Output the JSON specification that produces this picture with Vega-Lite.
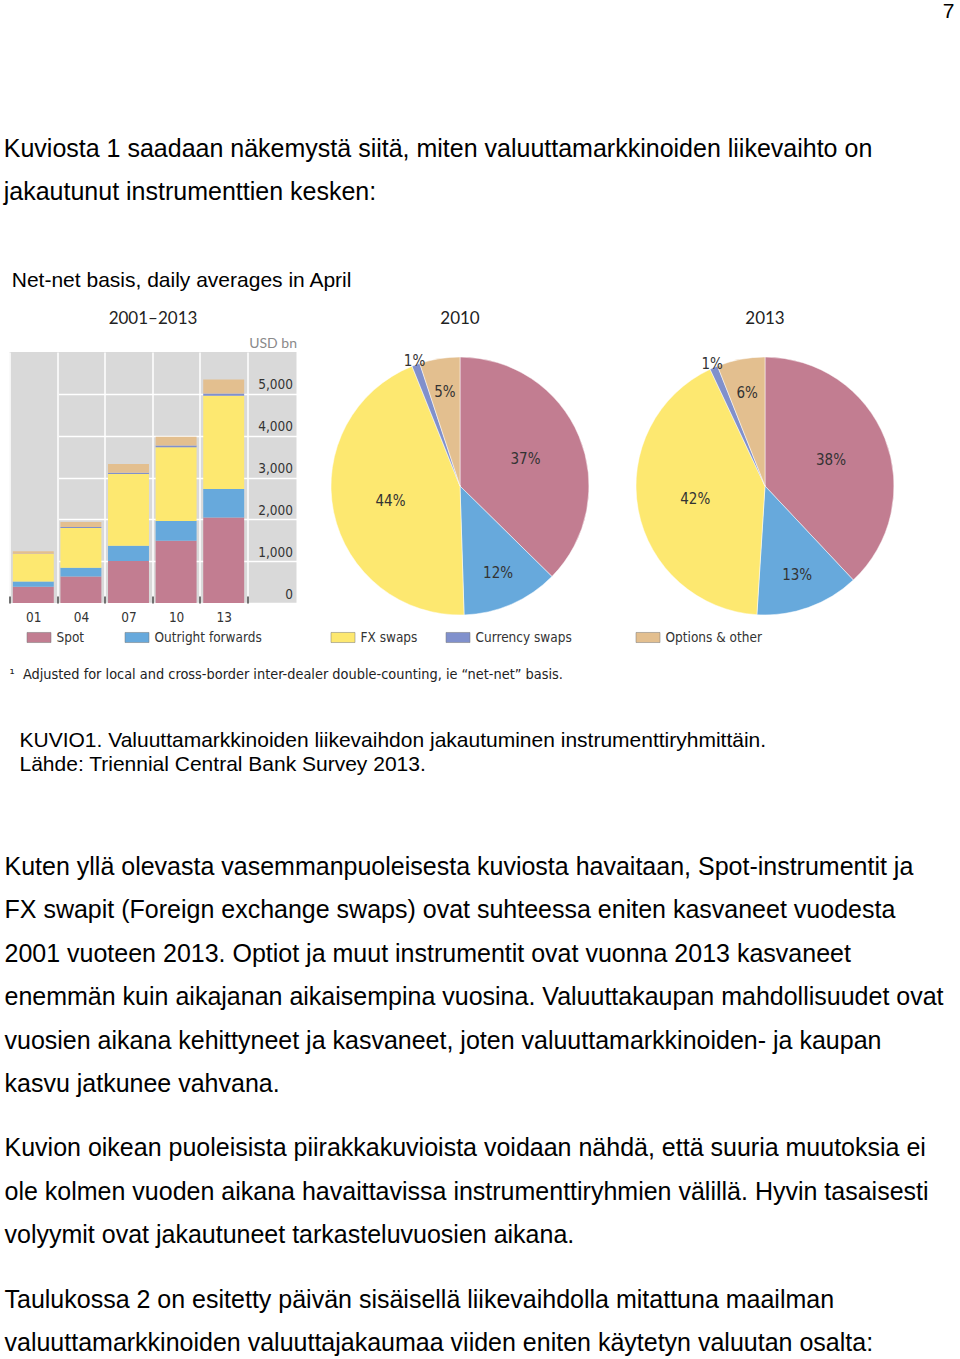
{
  "$schema": "https://vega.github.io/schema/vega-lite/v6.json",
  "background": "white",
  "padding": {"left": 3.5, "top": 0, "right": 5, "bottom": 0},
  "spacing": 22,
  "title": {"text": "7", "anchor": "end", "fontSize": 21, "offset": 115, "font": "Liberation Sans", "fontWeight": "normal", "color": "#000000"},
  "datasets": {
    "bars": [
      {"year": "01", "cat": "Spot", "ord": 1, "value": 386},
      {"year": "01", "cat": "Outright forwards", "ord": 2, "value": 130},
      {"year": "01", "cat": "FX swaps", "ord": 3, "value": 656},
      {"year": "01", "cat": "Currency swaps", "ord": 4, "value": 7},
      {"year": "01", "cat": "Options & other", "ord": 5, "value": 60},
      {"year": "04", "cat": "Spot", "ord": 1, "value": 631},
      {"year": "04", "cat": "Outright forwards", "ord": 2, "value": 209},
      {"year": "04", "cat": "FX swaps", "ord": 3, "value": 954},
      {"year": "04", "cat": "Currency swaps", "ord": 4, "value": 21},
      {"year": "04", "cat": "Options & other", "ord": 5, "value": 119},
      {"year": "07", "cat": "Spot", "ord": 1, "value": 1005},
      {"year": "07", "cat": "Outright forwards", "ord": 2, "value": 362},
      {"year": "07", "cat": "FX swaps", "ord": 3, "value": 1714},
      {"year": "07", "cat": "Currency swaps", "ord": 4, "value": 31},
      {"year": "07", "cat": "Options & other", "ord": 5, "value": 212},
      {"year": "10", "cat": "Spot", "ord": 1, "value": 1488},
      {"year": "10", "cat": "Outright forwards", "ord": 2, "value": 475},
      {"year": "10", "cat": "FX swaps", "ord": 3, "value": 1759},
      {"year": "10", "cat": "Currency swaps", "ord": 4, "value": 43},
      {"year": "10", "cat": "Options & other", "ord": 5, "value": 207},
      {"year": "13", "cat": "Spot", "ord": 1, "value": 2046},
      {"year": "13", "cat": "Outright forwards", "ord": 2, "value": 680},
      {"year": "13", "cat": "FX swaps", "ord": 3, "value": 2228},
      {"year": "13", "cat": "Currency swaps", "ord": 4, "value": 54},
      {"year": "13", "cat": "Options & other", "ord": 5, "value": 337}
    ],
    "pies": [
      {"year": "2010", "cat": "Spot", "ord": 1, "pct": 0.37},
      {"year": "2010", "cat": "Outright forwards", "ord": 2, "pct": 0.12},
      {"year": "2010", "cat": "FX swaps", "ord": 3, "pct": 0.44},
      {"year": "2010", "cat": "Currency swaps", "ord": 4, "pct": 0.01},
      {"year": "2010", "cat": "Options & other", "ord": 5, "pct": 0.05},
      {"year": "2013", "cat": "Spot", "ord": 1, "pct": 0.38},
      {"year": "2013", "cat": "Outright forwards", "ord": 2, "pct": 0.13},
      {"year": "2013", "cat": "FX swaps", "ord": 3, "pct": 0.42},
      {"year": "2013", "cat": "Currency swaps", "ord": 4, "pct": 0.01},
      {"year": "2013", "cat": "Options & other", "ord": 5, "pct": 0.06}
    ]
  },
  "vconcat": [
    {
      "title": {"text": ["Kuviosta 1 saadaan näkemystä siitä, miten valuuttamarkkinoiden liikevaihto on", "jakautunut instrumenttien kesken:"], "anchor": "start", "fontSize": 25, "lineHeight": 43, "dx": -5, "offset": 65},
      "vconcat": [
        {
          "title": {"text": "Net-net basis, daily averages in April", "anchor": "start", "fontSize": 21, "dx": 3, "offset": 19},
          "spacing": 22,
          "resolve": {"legend": {"color": "independent"}},
          "hconcat": [
            {
              "title": {"text": "2001–2013", "font": "Lato", "fontSize": 17, "color": "#222222", "offset": 8},
              "width": 287,
              "height": 251,
              "view": {"fill": "#d9d9d9", "stroke": null},
              "data": {"name": "bars"},
              "mark": {"type": "bar", "width": {"band": 0.86}},
              "encoding": {
                "x": {
                  "field": "year", "type": "ordinal",
                  "scale": {"range": [0, 238], "paddingInner": 0, "paddingOuter": 0},
                  "axis": {"title": null, "domain": false, "grid": true, "gridColor": "#ffffff", "gridWidth": 1.5, "tickBand": "extent", "ticks": true, "tickColor": "#444444", "tickWidth": 1.5, "tickSize": -7, "labelPadding": 14, "labelAngle": 0, "labelFontSize": 13.5, "labelColor": "#333333"}
                },
                "y": {
                  "field": "value", "type": "quantitative", "stack": "zero",
                  "scale": {"domain": [0, 6000], "nice": false},
                  "axis": {"orient": "right", "offset": -49, "values": [0, 1000, 2000, 3000, 4000, 5000], "format": ",.0f", "grid": true, "gridColor": "#ffffff", "gridWidth": 1.5, "domain": false, "ticks": false, "labelAlign": "right", "labelPadding": 45, "labelBaseline": "bottom", "labelOffset": -2, "labelFontSize": 13.5, "labelColor": "#333333", "title": "USD bn", "titleAngle": 0, "titleAlign": "right", "titleBaseline": "bottom", "titleX": 49, "titleY": -2, "titleFont": "Lato", "titleFontSize": 14, "titleFontWeight": "normal", "titleColor": "#8a8a8a"}
                },
                "color": {
                  "field": "cat", "type": "nominal",
                  "scale": {"domain": ["Spot", "Outright forwards", "FX swaps", "Currency swaps", "Options & other"], "range": ["#c27d91", "#67a9dc", "#fde870", "#8090cc", "#e3bf8f"]},
                  "legend": {"values": ["Spot", "Outright forwards"], "orient": "none", "legendX": 17, "legendY": 273, "direction": "horizontal", "title": null, "columnPadding": 39}
                },
                "order": {"field": "ord", "type": "quantitative"}
              }
            },
            {
              "title": {"text": "2010", "font": "Lato", "fontSize": 17, "color": "#222222", "offset": 20},
              "width": 283,
              "height": 268,
              "data": {"name": "pies"},
              "transform": [{"filter": "datum.year == '2010'"}],
              "layer": [
                {
                  "mark": {"type": "arc", "outerRadius": 129, "stroke": "#ffffff", "strokeWidth": 0.5},
                  "encoding": {
                    "theta": {"field": "pct", "type": "quantitative", "stack": true},
                    "color": {
                      "field": "cat", "type": "nominal",
                      "scale": {"domain": ["Spot", "Outright forwards", "FX swaps", "Currency swaps", "Options & other"], "range": ["#c27d91", "#67a9dc", "#fde870", "#8090cc", "#e3bf8f"]},
                      "legend": {"values": ["FX swaps", "Currency swaps"], "orient": "none", "legendX": 12, "legendY": 273, "direction": "horizontal", "title": null, "columnPadding": 27}
                    },
                    "order": {"field": "ord", "type": "quantitative"}
                  }
                },
                {
                  "mark": {"type": "text", "radius": 71, "fontSize": 15, "color": "#333333"},
                  "encoding": {
                    "theta": {"field": "pct", "type": "quantitative", "stack": true},
                    "detail": {"field": "cat", "type": "nominal"},
                    "order": {"field": "ord", "type": "quantitative"},
                    "text": {"condition": {"test": "datum.cat == 'Spot' || datum.cat == 'FX swaps'", "field": "pct", "type": "quantitative", "format": ".0%"}, "value": ""}
                  }
                },
                {
                  "mark": {"type": "text", "radius": 95, "fontSize": 15, "color": "#333333"},
                  "encoding": {
                    "theta": {"field": "pct", "type": "quantitative", "stack": true},
                    "detail": {"field": "cat", "type": "nominal"},
                    "order": {"field": "ord", "type": "quantitative"},
                    "text": {"condition": {"test": "datum.cat == 'Outright forwards' || datum.cat == 'Options & other'", "field": "pct", "type": "quantitative", "format": ".0%"}, "value": ""}
                  }
                },
                {
                  "mark": {"type": "text", "radius": 133, "fontSize": 15, "color": "#333333"},
                  "encoding": {
                    "theta": {"field": "pct", "type": "quantitative", "stack": true},
                    "detail": {"field": "cat", "type": "nominal"},
                    "order": {"field": "ord", "type": "quantitative"},
                    "text": {"condition": {"test": "datum.cat == 'Currency swaps'", "field": "pct", "type": "quantitative", "format": ".0%"}, "value": ""}
                  }
                }
              ]
            },
            {
              "title": {"text": "2013", "font": "Lato", "fontSize": 17, "color": "#222222", "offset": 20},
              "width": 283,
              "height": 268,
              "data": {"name": "pies"},
              "transform": [{"filter": "datum.year == '2013'"}],
              "layer": [
                {
                  "mark": {"type": "arc", "outerRadius": 129, "stroke": "#ffffff", "strokeWidth": 0.5},
                  "encoding": {
                    "theta": {"field": "pct", "type": "quantitative", "stack": true},
                    "color": {
                      "field": "cat", "type": "nominal",
                      "scale": {"domain": ["Spot", "Outright forwards", "FX swaps", "Currency swaps", "Options & other"], "range": ["#c27d91", "#67a9dc", "#fde870", "#8090cc", "#e3bf8f"]},
                      "legend": {"values": ["Options & other"], "orient": "none", "legendX": 12, "legendY": 273, "direction": "horizontal", "title": null}
                    },
                    "order": {"field": "ord", "type": "quantitative"}
                  }
                },
                {
                  "mark": {"type": "text", "radius": 71, "fontSize": 15, "color": "#333333"},
                  "encoding": {
                    "theta": {"field": "pct", "type": "quantitative", "stack": true},
                    "detail": {"field": "cat", "type": "nominal"},
                    "order": {"field": "ord", "type": "quantitative"},
                    "text": {"condition": {"test": "datum.cat == 'Spot' || datum.cat == 'FX swaps'", "field": "pct", "type": "quantitative", "format": ".0%"}, "value": ""}
                  }
                },
                {
                  "mark": {"type": "text", "radius": 95, "fontSize": 15, "color": "#333333"},
                  "encoding": {
                    "theta": {"field": "pct", "type": "quantitative", "stack": true},
                    "detail": {"field": "cat", "type": "nominal"},
                    "order": {"field": "ord", "type": "quantitative"},
                    "text": {"condition": {"test": "datum.cat == 'Outright forwards' || datum.cat == 'Options & other'", "field": "pct", "type": "quantitative", "format": ".0%"}, "value": ""}
                  }
                },
                {
                  "mark": {"type": "text", "radius": 133, "fontSize": 15, "color": "#333333"},
                  "encoding": {
                    "theta": {"field": "pct", "type": "quantitative", "stack": true},
                    "detail": {"field": "cat", "type": "nominal"},
                    "order": {"field": "ord", "type": "quantitative"},
                    "text": {"condition": {"test": "datum.cat == 'Currency swaps'", "field": "pct", "type": "quantitative", "format": ".0%"}, "value": ""}
                  }
                }
              ]
            }
          ]
        }
      ]
    },
    {
      "title": {"text": "¹\u00a0\u00a0Adjusted for local and cross-border inter-dealer double-counting, ie \u201cnet-net\u201d basis.", "anchor": "start", "font": "DejaVu Sans Condensed, Liberation Sans Narrow, sans-serif", "fontSize": 14.4, "color": "#222222", "offset": 25},
      "width": 945,
      "height": 0.01,
      "data": {"values": []},
      "mark": "point"
    },
    {
      "title": {"text": ["KUVIO1. Valuuttamarkkinoiden liikevaihdon jakautuminen instrumenttiryhmittäin.", "Lähde: Triennial Central Bank Survey 2013."], "anchor": "start", "fontSize": 21, "lineHeight": 24, "dx": 10, "offset": 57},
      "width": 945,
      "height": 0.01,
      "data": {"values": []},
      "mark": "point"
    },
    {
      "title": {"text": ["Kuten yllä olevasta vasemmanpuoleisesta kuviosta havaitaan, Spot-instrumentit ja", "FX swapit (Foreign exchange swaps) ovat suhteessa eniten kasvaneet vuodesta", "2001 vuoteen 2013. Optiot ja muut instrumentit ovat vuonna 2013 kasvaneet", "enemmän kuin aikajanan aikaisempina vuosina. Valuuttakaupan mahdollisuudet ovat", "vuosien aikana kehittyneet ja kasvaneet, joten valuuttamarkkinoiden- ja kaupan", "kasvu jatkunee vahvana."], "anchor": "start", "fontSize": 25, "lineHeight": 43.4, "dx": -5, "offset": 16},
      "width": 945,
      "height": 0.01,
      "data": {"values": []},
      "mark": "point"
    },
    {
      "title": {"text": ["Kuvion oikean puoleisista piirakkakuvioista voidaan nähdä, että suuria muutoksia ei", "ole kolmen vuoden aikana havaittavissa instrumenttiryhmien välillä. Hyvin tasaisesti", "volyymit ovat jakautuneet tarkasteluvuosien aikana."], "anchor": "start", "fontSize": 25, "lineHeight": 43.4, "dx": -5, "offset": 16},
      "width": 945,
      "height": 0.01,
      "data": {"values": []},
      "mark": "point"
    },
    {
      "title": {"text": ["Taulukossa 2 on esitetty päivän sisäisellä liikevaihdolla mitattuna maailman", "valuuttamarkkinoiden valuuttajakaumaa viiden eniten käytetyn valuutan osalta:"], "anchor": "start", "fontSize": 25, "lineHeight": 43.4, "dx": -5, "offset": 0},
      "width": 945,
      "height": 0.01,
      "data": {"values": []},
      "mark": "point"
    }
  ],
  "config": {
    "view": {"stroke": null},
    "font": "Liberation Sans",
    "title": {"font": "Liberation Sans", "fontWeight": "normal", "color": "#000000"},
    "axis": {"labelFont": "DejaVu Sans Condensed, Liberation Sans Narrow, sans-serif"},
    "text": {"font": "DejaVu Sans Condensed, Liberation Sans Narrow, sans-serif"},
    "legend": {"labelFont": "DejaVu Sans Condensed, Liberation Sans Narrow, sans-serif", "labelFontSize": 13.5, "labelColor": "#333333", "labelOffset": 5, "symbolType": "M-1,-0.42H1V0.42H-1Z", "symbolSize": 576, "symbolStrokeColor": "#777777", "symbolStrokeWidth": 0.5, "symbolOpacity": 1, "padding": 0}
  }
}
